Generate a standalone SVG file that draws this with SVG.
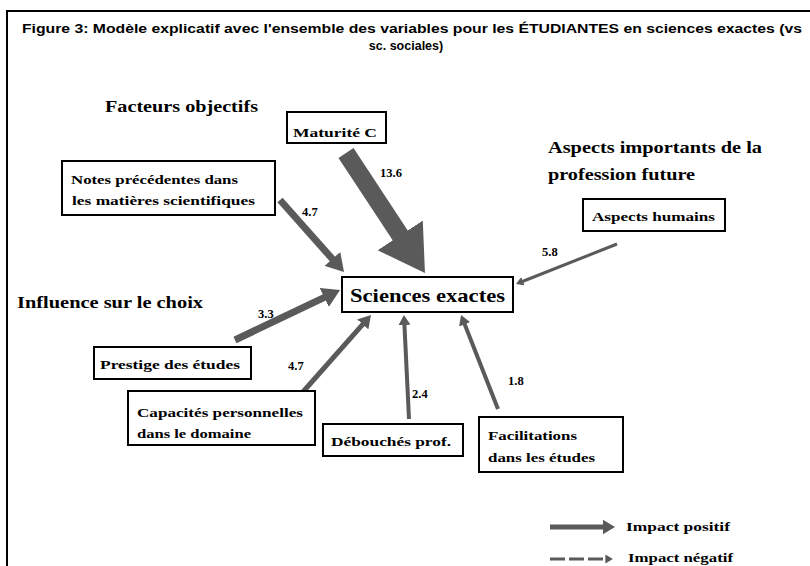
<svg xmlns="http://www.w3.org/2000/svg" width="810" height="566" viewBox="0 0 810 566">
<defs>
<style>
.t{font-family:"Liberation Serif","Times New Roman",serif;font-weight:bold;fill:#000}
.h{font-size:16px}
.n{font-size:13px}
.v{font-size:12.5px}
.box{fill:#fff;stroke:#000;stroke-width:2}
.ar{stroke:#5a5a5a;fill:none;stroke-linecap:butt}
</style>
<marker id="ah" viewBox="0 0 3 3" refX="0.2" refY="1.5" markerWidth="3" markerHeight="3" markerUnits="strokeWidth" orient="auto">
<path d="M0,0 L2.5,1.5 L0,3 z" fill="#5a5a5a"/>
</marker>
</defs>
<rect width="810" height="566" fill="#fff"/>
<path d="M7,566 V11 H810" fill="none" stroke="#000" stroke-width="2"/>
<g id="title" font-family="'Liberation Sans',Arial,sans-serif" font-weight="bold" font-size="12.5">
<text x="22" y="33" textLength="780" lengthAdjust="spacingAndGlyphs">Figure 3: Modèle explicatif avec l'ensemble des variables pour les ÉTUDIANTES en sciences exactes (vs</text>
<text x="406" y="50" text-anchor="middle">sc. sociales)</text>
</g>
<g id="headings">
<text class="t h" x="105" y="112" textLength="153" lengthAdjust="spacingAndGlyphs">Facteurs objectifs</text>
<text class="t h" x="548" y="153" textLength="214" lengthAdjust="spacingAndGlyphs">Aspects importants de la</text>
<text class="t h" x="548" y="180" textLength="147" lengthAdjust="spacingAndGlyphs">profession future</text>
<text class="t h" x="17" y="308" textLength="186" lengthAdjust="spacingAndGlyphs">Influence sur le choix</text>
</g>
<g id="connectors">
<line class="ar" x1="346" y1="153" x2="402.2" y2="238.4" stroke-width="18" marker-end="url(#ah)"/>
<line class="ar" x1="280" y1="200" x2="333.3" y2="260" stroke-width="7" marker-end="url(#ah)"/>
<line class="ar" x1="617" y1="244" x2="522.4" y2="281.5" stroke-width="3" marker-end="url(#ah)"/>
<line class="ar" x1="235" y1="340" x2="325.5" y2="296.9" stroke-width="7" marker-end="url(#ah)"/>
<line class="ar" x1="302" y1="393" x2="363.4" y2="323.6" stroke-width="5" marker-end="url(#ah)"/>
<line class="ar" x1="409" y1="419" x2="404.4" y2="324.2" stroke-width="4" marker-end="url(#ah)"/>
<line class="ar" x1="498" y1="409" x2="464.4" y2="323.6" stroke-width="4" marker-end="url(#ah)"/>
</g>
<g id="labels">
<text class="t v" x="380" y="177">13.6</text>
<text class="t v" x="302" y="216">4.7</text>
<text class="t v" x="542" y="256">5.8</text>
<text class="t v" x="258" y="318">3.3</text>
<text class="t v" x="288" y="370">4.7</text>
<text class="t v" x="412" y="398">2.4</text>
<text class="t v" x="508" y="385">1.8</text>
</g>
<g id="maturite">
<rect class="box" x="287" y="112" width="99" height="31"/>
<text class="t n" x="293" y="137" textLength="84" lengthAdjust="spacingAndGlyphs">Maturité C</text>
</g>
<g id="notes">
<rect class="box" x="62" y="161" width="213" height="54"/>
<text class="t n" x="71" y="184" textLength="167" lengthAdjust="spacingAndGlyphs">Notes précédentes dans</text>
<text class="t n" x="72" y="205" textLength="183" lengthAdjust="spacingAndGlyphs">les matières scientifiques</text>
</g>
<g id="aspects-humains">
<rect class="box" x="583" y="199" width="142" height="32"/>
<text class="t n" x="592" y="221" textLength="123" lengthAdjust="spacingAndGlyphs">Aspects humains</text>
</g>
<g id="sciences-exactes">
<rect class="box" x="342" y="277" width="171" height="35"/>
<text class="t" font-size="19" x="427.5" y="302" text-anchor="middle" textLength="155" lengthAdjust="spacingAndGlyphs">Sciences exactes</text>
</g>
<g id="prestige">
<rect class="box" x="94" y="347" width="157" height="32"/>
<text class="t n" x="100" y="369" textLength="140" lengthAdjust="spacingAndGlyphs">Prestige des études</text>
</g>
<g id="capacites">
<rect class="box" x="128" y="391" width="187" height="54"/>
<text class="t n" x="137" y="417" textLength="166" lengthAdjust="spacingAndGlyphs">Capacités personnelles</text>
<text class="t n" x="137" y="438" textLength="114" lengthAdjust="spacingAndGlyphs">dans le domaine</text>
</g>
<g id="debouches">
<rect class="box" x="323" y="424" width="140" height="32"/>
<text class="t n" x="331" y="446" textLength="120" lengthAdjust="spacingAndGlyphs">Débouchés prof.</text>
</g>
<g id="facilitations">
<rect class="box" x="479" y="417" width="144" height="55"/>
<text class="t n" x="488" y="440" textLength="89" lengthAdjust="spacingAndGlyphs">Facilitations</text>
<text class="t n" x="488" y="462" textLength="107" lengthAdjust="spacingAndGlyphs">dans les études</text>
</g>
<g id="legend">
<line class="ar" x1="550" y1="527" x2="603.5" y2="527" stroke-width="5" marker-end="url(#ah)"/>
<line class="ar" x1="550" y1="559" x2="606" y2="559" stroke-width="3" stroke-dasharray="15,4" marker-end="url(#ah)"/>
<text class="t n" x="626" y="531" textLength="104" lengthAdjust="spacingAndGlyphs">Impact positif</text>
<text class="t n" x="628" y="562" textLength="105" lengthAdjust="spacingAndGlyphs">Impact négatif</text>
</g>
</svg>
